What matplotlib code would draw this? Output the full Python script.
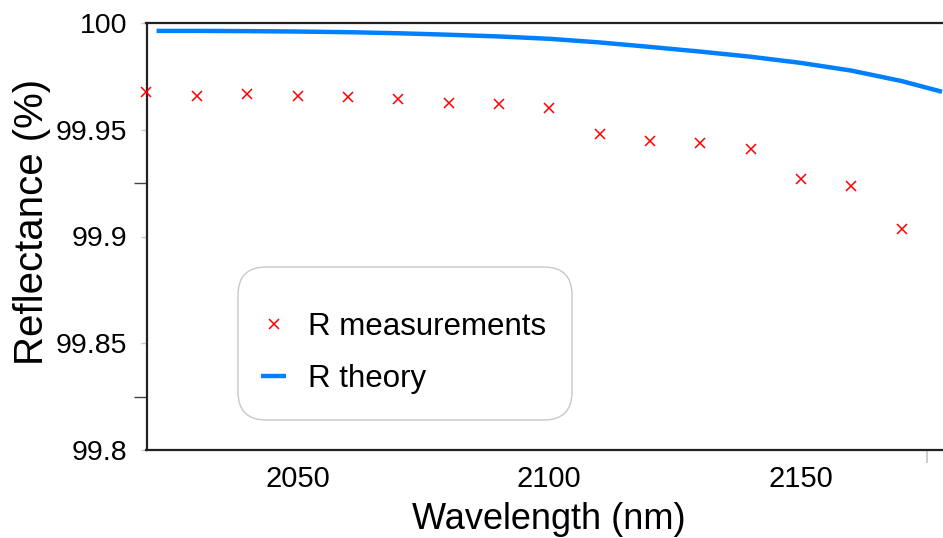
import matplotlib
matplotlib.use("Agg")
import matplotlib.pyplot as plt
from matplotlib import font_manager
from matplotlib.patches import FancyBboxPatch
from matplotlib.transforms import IdentityTransform
from matplotlib.ticker import FixedLocator

# ---- data ----
meas_wl = [2020, 2030, 2040, 2050, 2060, 2070, 2080, 2090, 2100,
           2110, 2120, 2130, 2140, 2150, 2160, 2170]
meas_R = [99.9678, 99.9658, 99.9667, 99.9658, 99.9653, 99.9643, 99.9624, 99.9619, 99.9603,
          99.9480, 99.9449, 99.9438, 99.9408, 99.9268, 99.9238, 99.9037]

theory_wl = [2022, 2030, 2040, 2050, 2060, 2070, 2080, 2090, 2100, 2110,
             2120, 2130, 2140, 2150, 2160, 2170, 2178]
theory_R = [99.9963, 99.9963, 99.9962, 99.9960, 99.9957, 99.9952, 99.9945, 99.9937, 99.9926,
            99.9909, 99.9888, 99.9866, 99.9842, 99.9813, 99.9777, 99.9728, 99.9678]

x_ticks = [2050, 2100, 2150]
y_ticks = [99.8, 99.85, 99.9, 99.95, 100]
y_tick_labels = ["99.8", "99.85", "99.9", "99.95", "100"]

names = {f.name for f in font_manager.fontManager.ttflist}
base = "Liberation Sans" if "Liberation Sans" in names else "DejaVu Sans"
plt.rcParams["font.family"] = [base, "DejaVu Sans"]

fig = plt.figure(figsize=(9.43, 5.38), dpi=100)
W, H = 943, 538
ax = fig.add_axes([146.5 / W, 1 - 450 / H, 1 - 146.5 / W, 427 / H])

ax.plot(theory_wl, theory_R, color="#0080ff", lw=3.2, solid_capstyle="butt",
        label="R theory", zorder=3)
ax.plot(meas_wl, meas_R, ls="none", marker="x", color="#ff0000", ms=7.8, mew=1.1,
        label="R measurements", clip_on=False, zorder=4)

ax.set_xlim(2020, 2178.2)
ax.set_ylim(99.8, 100)

ax.set_yticks(y_ticks)
ax.set_yticklabels(y_tick_labels, fontsize=20.5)
ax.yaxis.set_minor_locator(FixedLocator([99.825, 99.925]))
ax.tick_params(axis="y", which="major", length=4.5, width=1.0, color="#c8c8c8", pad=9.3)
ax.tick_params(axis="y", which="minor", length=9.7, width=1.0, color="#444444")

ax.set_xticks(x_ticks)
ax.set_xticklabels([str(v) for v in x_ticks], fontsize=21)
ax.xaxis.set_minor_locator(FixedLocator([2175]))
ax.tick_params(axis="x", which="major", length=0, pad=11.0)
ax.tick_params(axis="x", which="minor", length=9.5, width=1.3, color="#c8c8c8")

for s in ["left", "top", "bottom"]:
    ax.spines[s].set_linewidth(1.6)
    ax.spines[s].set_color("#222222")
ax.spines["right"].set_visible(False)

ax.set_xlabel("Wavelength (nm)", fontsize=26)
ax.xaxis.set_label_coords((548.5 - 146.5) / 796.5, (450 - 502) / 427)
ax.set_ylabel("Reflectance (%)", fontsize=29)
ax.yaxis.set_label_coords((51 - 146.5) / 796.5, (450 - 222) / 427)

# legend with rounded light frame
box = FancyBboxPatch((238, H - 420), 334, 153,
                     boxstyle="round,pad=0,rounding_size=28",
                     transform=IdentityTransform(), facecolor="white",
                     edgecolor="#c8c8c8", linewidth=1.0, zorder=4, clip_on=False)
ax.add_artist(box)
handles, labels = ax.get_legend_handles_labels()
order = [1, 0]
leg = ax.legend([handles[i] for i in order], [labels[i] for i in order],
                loc="center left", bbox_to_anchor=(236 / W, 1 - 353 / H),
                bbox_transform=fig.transFigure, frameon=False, fontsize=22.5,
                handlelength=0.8, handletextpad=0.7, labelspacing=0.68,
                borderpad=0.3, numpoints=1)
leg.set_zorder(5)

fig.savefig("out.png", dpi=100)
